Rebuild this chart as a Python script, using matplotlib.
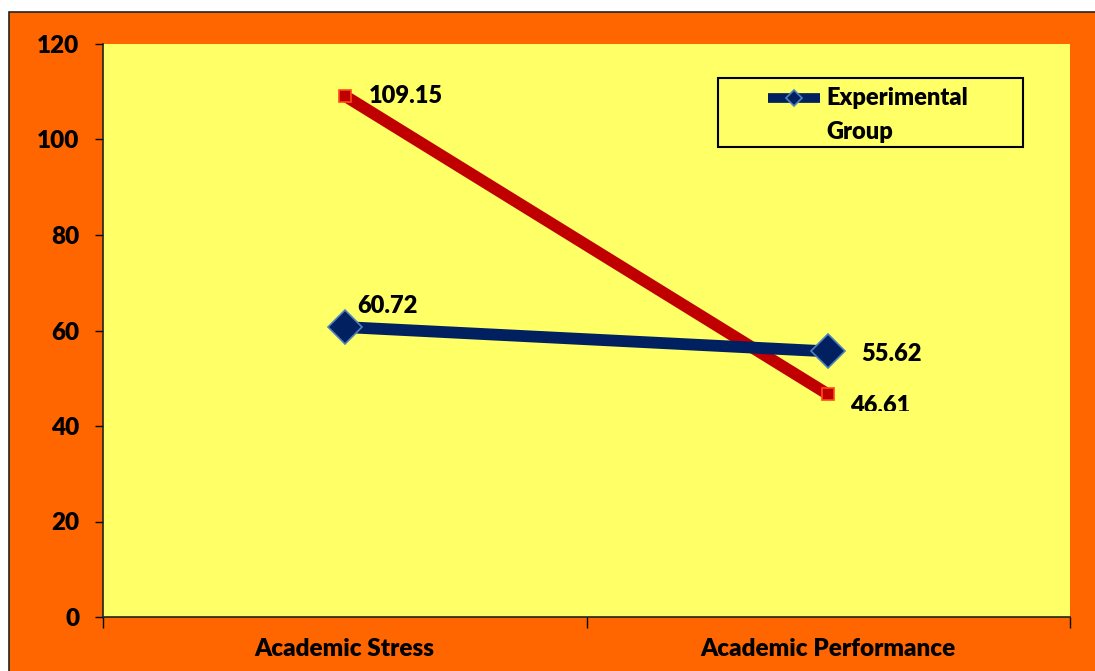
import matplotlib.pyplot as plt
from matplotlib.lines import Line2D
from matplotlib.patches import Rectangle


categories = ["Academic Stress", "Academic Performance"]
experimental = [60.72, 55.62]
control = [109.15, 46.61]
y_ticks = [0, 20, 40, 60, 80, 100, 120]

plt.rcParams["font.family"] = ["Lato", "DejaVu Sans"]
plt.rcParams["font.weight"] = "bold"

fig = plt.figure(figsize=(10.95, 6.71), dpi=100, facecolor="white")

# orange chart area with thin dark border
fig.patches.append(
    Rectangle(
        (9 / 1095, -0.01),
        1.1,
        1 - 12 / 671 + 0.01,
        transform=fig.transFigure,
        facecolor="#FF6600",
        edgecolor="#222222",
        linewidth=1.2,
        zorder=-10,
    )
)

ax = fig.add_axes([103 / 1095, 1 - 617 / 671, 967 / 1095, 573 / 671])
ax.set_facecolor("#FFFF66")

x = list(range(len(categories)))

ax.plot(
    x,
    control,
    color="#C00000",
    linewidth=8.5,
    marker="s",
    markersize=8.5,
    markerfacecolor="#C00000",
    markeredgecolor="#FF4A1A",
    markeredgewidth=1.2,
    solid_capstyle="butt",
    zorder=3,
)

ax.plot(
    x,
    experimental,
    color="#002060",
    linewidth=8.5,
    marker="D",
    markersize=17,
    markerfacecolor="#002060",
    markeredgecolor="#4F81BD",
    markeredgewidth=1.2,
    solid_capstyle="butt",
    zorder=4,
)

label_style = dict(fontsize=17, fontweight="heavy", color="black",
                   textcoords="offset points", va="center", ha="left")

ax.annotate(f"{control[0]:.2f}", (x[0], control[0]), xytext=(17, 0), **label_style)
ax.annotate(f"{experimental[0]:.2f}", (x[0], experimental[0]), xytext=(9, 15), **label_style)
ax.annotate(f"{experimental[1]:.2f}", (x[1], experimental[1]), xytext=(24, -2), **label_style)
low_label = ax.annotate(f"{control[1]:.2f}", (x[1], control[1]), xytext=(16, -8), **label_style)

# bottom of the last label is cut off in the original
clip_rect = Rectangle((0, (617 - 411) / 573), 1, 1, transform=ax.transAxes)
low_label.set_clip_path(clip_rect)

ax.set_xlim(-0.5, len(categories) - 0.5)
ax.set_ylim(0, 120)
ax.set_yticks(y_ticks)
ax.set_xticks(x)
ax.set_xticklabels(categories)
ax.set_xticks([-0.5, 0.5, 1.5], minor=True)

ax.tick_params(axis="y", length=6, width=1, labelsize=17.5, pad=11)
ax.tick_params(axis="x", which="major", length=0, labelsize=17.5, pad=15)
ax.tick_params(axis="x", which="minor", length=8, width=1)
for lbl in ax.get_xticklabels() + ax.get_yticklabels():
    lbl.set_fontweight("heavy")

for side in ["top", "right"]:
    ax.spines[side].set_visible(False)
for side in ["left", "bottom"]:
    ax.spines[side].set_color("#222222")
    ax.spines[side].set_linewidth(1.2)

# legend box drawn by hand to match the wrapped label layout
ax.add_patch(
    Rectangle(
        (0.636, 0.8202),
        0.315,
        0.1205,
        transform=ax.transAxes,
        facecolor="none",
        edgecolor="black",
        linewidth=1.5,
        zorder=5,
    )
)
ax.add_line(
    Line2D(
        [0.6877, 0.7415],
        [0.9058, 0.9058],
        transform=ax.transAxes,
        color="#002060",
        linewidth=7,
        solid_capstyle="butt",
        zorder=5,
    )
)
ax.add_line(
    Line2D(
        [0.7146],
        [0.9058],
        transform=ax.transAxes,
        marker="D",
        markersize=8,
        markerfacecolor="#002060",
        markeredgecolor="#4F81BD",
        markeredgewidth=1.2,
        zorder=6,
    )
)
ax.text(0.7477, 0.9058, "Experimental", transform=ax.transAxes,
        fontsize=17, fontweight="heavy", va="center", ha="left", zorder=6)
ax.text(0.7477, 0.846, "Group", transform=ax.transAxes,
        fontsize=17, fontweight="heavy", va="center", ha="left", zorder=6)

fig.savefig("out.png", dpi=100, facecolor=fig.get_facecolor())
